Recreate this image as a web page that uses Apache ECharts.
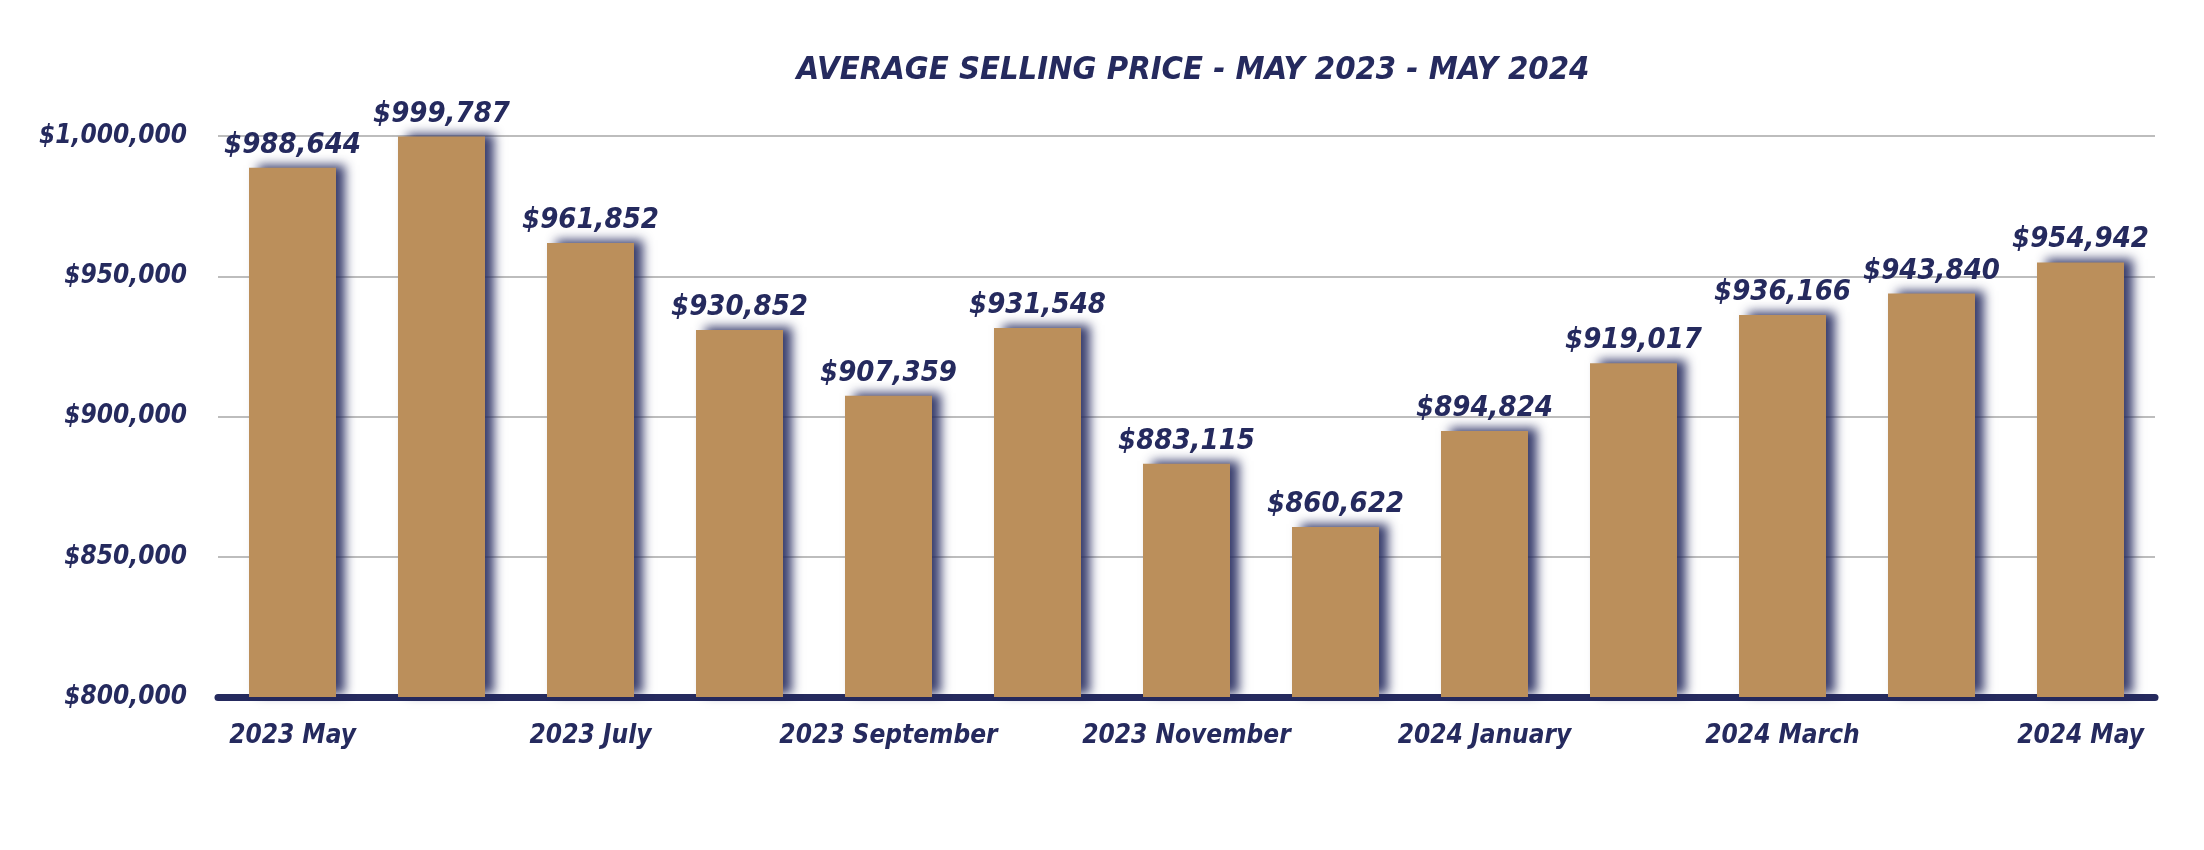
<!DOCTYPE html>
<html>
<head>
<meta charset="utf-8">
<script src="https://cdn.jsdelivr.net/npm/echarts@6/dist/echarts.min.js"></script>
<style>
html,body{margin:0;padding:0;background:#fff;}
#chart{width:2204px;height:850px;}
</style>
</head>
<body>
<div id="chart"></div>
<script>
var titleText = 'AVERAGE SELLING PRICE - MAY 2023 - MAY 2024';
var categories = ['2023 May','2023 June','2023 July','2023 August','2023 September','2023 October','2023 November','2023 December','2024 January','2024 February','2024 March','2024 April','2024 May'];
var values = [988644, 999787, 961852, 930852, 907359, 931548, 883115, 860622, 894824, 919017, 936166, 943840, 954942];
var yMin = 800000, yMax = 1000000, yStep = 50000;

var navy = '#252a5e';
var FONT = '"Liberation Sans Narrow","DejaVu Sans Condensed","Liberation Sans",sans-serif';
function money(v){ return '$' + Math.round(v).toString().replace(/\B(?=(\d{3})+(?!\d))/g, ','); }

var chart = echarts.init(document.getElementById('chart'));
chart.setOption({
  backgroundColor: '#ffffff',
  animation: false,
  title: {
    text: titleText,
    left: 1188, top: 49, textAlign: 'center',
    textStyle: {color: navy, fontFamily: FONT, fontSize: 32.5, fontWeight: 'bold', fontStyle: 'italic'}
  },
  grid: {left: 218, right: 49, top: 136, bottom: 153, containLabel: false},
  xAxis: {
    type: 'category',
    data: categories,
    axisLine: {show: true, lineStyle: {color: navy, width: 7}},
    axisTick: {show: false},
    axisLabel: {interval: 1, color: navy, fontFamily: FONT, fontSize: 26, fontWeight: 'bold', fontStyle: 'italic', margin: 26}
  },
  yAxis: {
    type: 'value',
    min: yMin, max: yMax, interval: yStep,
    axisLine: {show: false},
    axisTick: {show: false},
    splitLine: {show: true, lineStyle: {color: '#bdbdbd', width: 2}},
    axisLabel: {color: navy, fontFamily: FONT, fontSize: 26, fontWeight: 'bold', fontStyle: 'italic', margin: 31, formatter: money}
  },
  series: [{
    type: 'bar',
    data: values,
    barWidth: 87,
    itemStyle: {color: '#bb8f5b', shadowColor: 'rgba(37,42,94,0.9)', shadowBlur: 10, shadowOffsetX: 9, shadowOffsetY: -3},
    label: {show: true, position: 'top', distance: 8, formatter: function(p){return money(p.value);},
      color: navy, fontFamily: FONT, fontSize: 29, fontWeight: 'bold', fontStyle: 'italic'}
  }]
});
</script>
</body>
</html>
